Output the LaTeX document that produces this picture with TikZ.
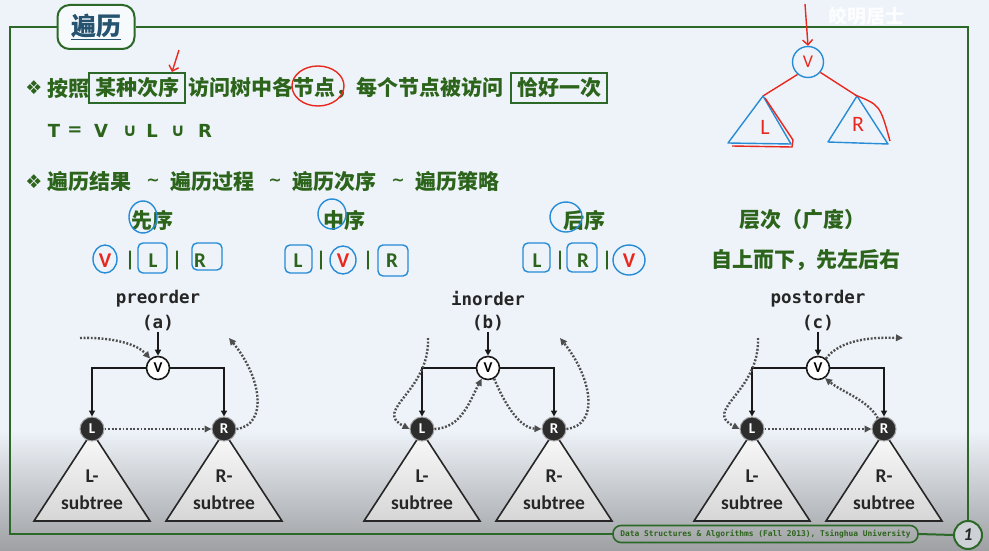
\documentclass[tikz,border=0pt]{standalone}
\usepackage{fontspec}
\usetikzlibrary{arrows.meta,calc}
\newfontfamily\cjk{Noto Sans CJK SC}
\newfontfamily\lat{Carlito}
\newfontfamily\mono{DejaVu Sans Mono}
\newfontfamily\sym{DejaVu Sans}
\definecolor{bgc}{RGB}{238,243,249}
\definecolor{shadeg}{RGB}{158,160,163}
\definecolor{fg}{RGB}{44,100,28}
\definecolor{fr}{RGB}{44,104,40}
\definecolor{ttlc}{RGB}{38,84,112}
\definecolor{penc}{RGB}{38,140,214}
\definecolor{redc}{RGB}{232,40,30}
\definecolor{dotc}{RGB}{78,78,78}
\definecolor{darknode}{RGB}{45,45,45}

% one traversal tree: #1 centre x, #2 name prefix, #3 caption, #4 tag
\newcommand\travtree[4]{%
  \shadedraw[tri] (#1-66,432) -- (#1-124,521) -- (#1-8,521) -- cycle;
  \shadedraw[tri] (#1+66,432) -- (#1+8,521) -- (#1+124,521) -- cycle;
  \node[subt] at (#1-66,476) {L-};
  \node[subt] at (#1-66,503) {subtree};
  \node[subt] at (#1+66,476) {R-};
  \node[subt] at (#1+66,503) {subtree};
  \node[monot] (#2name) at (#1,299) {#3};
  \node[monot] (#2tag) at (#1,323) {(#4)};
  \node[vnode] (#2V) at (#1,368) {V};
  \node[cnode] (#2L) at (#1-66,429) {L};
  \node[cnode] (#2R) at (#1+66,429) {R};
  \draw[edge] (#2tag.south) -- (#2V.north);
  \draw[edge] (#2V.west) -| (#2L.north);
  \draw[edge] (#2V.east) -| (#2R.north);
}

\begin{document}
\begin{tikzpicture}[x=1pt,y=-1pt,
  cn/.style={font=\cjk\bfseries\fontsize{21}{21}\selectfont, text=fg, inner sep=0pt},
  boxed/.style={cn, draw=fr, line width=1.2pt, inner xsep=6pt, minimum height=30pt},
  bul/.style={font=\sym\fontsize{19}{19}\selectfont, text=fg, inner sep=0pt},
  tletter/.style={font=\sym\bfseries\fontsize{18}{18}\selectfont, text=fg, inner sep=0pt},
  seq/.style={font=\lat\bfseries\fontsize{21}{21}\selectfont, text=fg, inner sep=0pt},
  pen/.style={draw=penc, line width=1.4pt},
  redp/.style={draw=redc, line width=1.4pt},
  monot/.style={font=\mono\bfseries\fontsize{17.5}{18}\selectfont, text=black!85, inner sep=1pt},
  subt/.style={font=\lat\bfseries\fontsize{19.5}{20}\selectfont, text=black!85, inner sep=0pt},
  tri/.style={draw=black!85, line width=1.6pt, line join=miter, top color=white!96!gray, bottom color=gray!32},
  vnode/.style={circle, draw=black!90, line width=1.6pt, fill=white, minimum size=23pt, inner sep=0pt,
    font=\lat\bfseries\fontsize{15}{15}\selectfont},
  cnode/.style={circle, draw=gray!70, line width=1pt, fill=darknode, text=white, minimum size=24pt, inner sep=0pt,
    font=\lat\bfseries\fontsize{15}{15}\selectfont},
  edge/.style={draw=black!90, line width=1.7pt, -{Triangle[length=6pt,width=6pt]}},
  walk/.style={draw=dotc, line width=2.4pt, dash pattern=on 1.9pt off 1.7pt,
    -{Triangle[length=7pt,width=6.5pt]}}]
\useasboundingbox (0,0) rectangle (989,551);

% backdrop
\fill[bgc] (0,0) rectangle (989,551);
\shade[top color=bgc, bottom color=shadeg] (0,430) rectangle (989,551);

% title tab, frame and footer
\node[draw=fr, line width=2pt, rounded corners=12pt, fill=white!55!bgc, minimum width=77pt, minimum height=44pt,
  inner sep=0pt, text=ttlc, font=\cjk\bfseries\fontsize{25}{25}\selectfont] (ttl) at (96,27) {\underline{遍历}};
\node[draw=fr, line width=1.6pt, rounded corners=8pt, minimum width=305pt, minimum height=17pt, inner sep=0pt,
  text=fg, font=\mono\bfseries\fontsize{7.9}{8}\selectfont] (foot) at (765.5,534)
  {Data Structures \& Algorithms (Fall 2013), Tsinghua University};
\node[circle, draw=fr, line width=2pt, minimum size=28pt, inner sep=0pt, fill=shadeg!40!bgc,
  text=black!85, font=\lat\bfseries\itshape\fontsize{18}{18}\selectfont] (pg) at (968,535) {1};
\draw[fr, line width=2pt] (ttl.east) -- (968,27) -- (pg.north);
\draw[fr, line width=2pt] (ttl.west) -- (10,27) -- (10,534) -- (foot.west);
\draw[fr, line width=2pt] (foot.east) -- (pg.west);
\node[text=white, opacity=0.85, font=\cjk\bfseries\fontsize{19}{19}\selectfont, inner sep=0pt] (wm) at (866,16) {皎明居士};

% first statement
\node[bul] (b1) at (34,88) {❖};
\node[cn, anchor=west] (s1) at (47,88) {按照};
\node[boxed] (s2) at (137,88) {某种次序};
\node[cn, anchor=west] (s3) at (188,88) {访问树中各节点，每个节点被访问};
\node[boxed] (s4) at (559,88) {恰好一次};

% T = V u L u R
\foreach \ch/\xx [count=\i] in {T/54, =/75, V/101, ∪/130, L/152, ∪/178, R/205}
  \node[tletter] (t\i) at (\xx,131) {\ch};

% second statement
\node[bul] (b2) at (34,182) {❖};
\node[cn, anchor=west] (r1) at (47,182) {遍历结果};
\node[cn] (r2) at (153,182) {\sym\bfseries\fontsize{16}{16}\selectfont \textasciitilde};
\node[cn, anchor=west] (r3) at (170,182) {遍历过程};
\node[cn] (r4) at (275,182) {\sym\bfseries\fontsize{16}{16}\selectfont \textasciitilde};
\node[cn, anchor=west] (r5) at (292,182) {遍历次序};
\node[cn] (r6) at (398,182) {\sym\bfseries\fontsize{16}{16}\selectfont \textasciitilde};
\node[cn, anchor=west] (r7) at (415,182) {遍历策略};

% order names
\node[cn] (o1) at (152,220) {先序};
\node[cn] (o2) at (344,220) {中序};
\node[cn] (o3) at (584,220) {后序};
\node[cn] (o4) at (802,220) {层次（广度）};
\node[cn] (o5) at (806,260) {自上而下，先左后右};

% visiting sequences
\node[seq, text=redc] (p1) at (105,261) {V};
\node[seq] at (130,261) {|};
\node[seq] (p2) at (153,261) {L};
\node[seq] at (177,261) {|};
\node[seq] (p3) at (200,261) {R};
\node[seq] (q1) at (298,261) {L};
\node[seq] at (321,261) {|};
\node[seq, text=redc] (q2) at (343,261) {V};
\node[seq] at (368,261) {|};
\node[seq] (q3) at (392,261) {R};
\node[seq] (u1) at (537,261) {L};
\node[seq] at (560,261) {|};
\node[seq] (u2) at (583,261) {R};
\node[seq] at (607,261) {|};
\node[seq, text=redc] (u3) at (629,261) {V};

% pen marks
\draw[pen] (143,217) ellipse (14 and 16);
\draw[pen] (332,214) ellipse (14 and 15);
\draw[pen] (566,217) ellipse (16 and 15);
\draw[pen] (105,259) ellipse (12 and 14);
\draw[pen, rounded corners=5pt] (138,243) rectangle (167,273);
\draw[pen, rounded corners=5pt] (192,243) rectangle (222,270);
\draw[pen, rounded corners=5pt] (285,245) rectangle (312,273);
\draw[pen] (343,260) ellipse (13 and 14);
\draw[pen, rounded corners=5pt] (378,245) rectangle (408,276);
\draw[pen, rounded corners=5pt] (523,243) rectangle (550,272);
\draw[pen, rounded corners=5pt] (567,243) rectangle (597,272);
\draw[pen] (629,260) ellipse (16 and 15);
\draw[redp] (318,86) ellipse (26 and 20);
\draw[redp, -{Straight Barb[length=5pt]}] (179,50) -- (172,72);

% sketched tree in the corner
\node[circle, pen, minimum size=31pt, inner sep=0pt, text=redc, font=\lat\fontsize{18}{18}\selectfont] (sV) at (808,62) {V};
\draw[redp, -{Straight Barb[length=5pt]}] (805,4) -- (sV.north);
\coordinate (sL) at (763,96);
\coordinate (sR) at (857,96);
\draw[redp] (sV.230) -- (sL);
\draw[redp] (sV.-40) -- (sR);
\draw[pen, line join=round] (sL) -- (728,143) -- (791,144) -- cycle;
\draw[pen, line join=round] (sR) -- (828,142) -- (888,144) -- cycle;
\draw[redp] (765,98) -- (793,140) -- (792,147) -- (732,146);
\draw[redp] (855,95) .. controls (880,105) .. (890,141);
\node[text=redc, font=\lat\fontsize{22}{22}\selectfont, inner sep=0pt] (sLt) at (765,127) {L};
\node[text=redc, font=\lat\fontsize{22}{22}\selectfont, inner sep=0pt] (sRt) at (858,124) {R};

% the three traversals
\travtree{158}{a}{preorder}{a}
\travtree{488}{b}{inorder}{b}
\travtree{818}{c}{postorder}{c}

% preorder walk
\coordinate (ain) at (80,338);
\coordinate (aout) at (229,338);
\draw[walk] (ain) .. controls (115,337) and (138,345) .. (aV.130);
\draw[walk] (aL.east) -- (aR.west);
\draw[walk] (aR.east) .. controls (268,425) and (262,378) .. (aout);

% inorder walk
\coordinate (bin) at (428,338);
\coordinate (bout) at (560,338);
\draw[walk] (bin) .. controls (430,392) and (372,410) .. (bL.west);
\draw[walk] (bL.east) .. controls (462,428) and (470,400) .. (bV.240);
\draw[walk] (bV.-60) .. controls (505,405) and (520,428) .. (bR.west);
\draw[walk] (bR.east) .. controls (600,425) and (592,378) .. (bout);

% postorder walk
\coordinate (cin) at (758,338);
\coordinate (cout) at (903,338);
\draw[walk] (cin) .. controls (760,392) and (702,410) .. (cL.west);
\draw[walk] (cL.east) -- (cR.west);
\draw[walk] (cR.120) .. controls (868,400) and (842,392) .. (cV.-55);
\draw[walk] (cV.50) .. controls (840,340) and (870,337) .. (cout);
\end{tikzpicture}
\end{document}
